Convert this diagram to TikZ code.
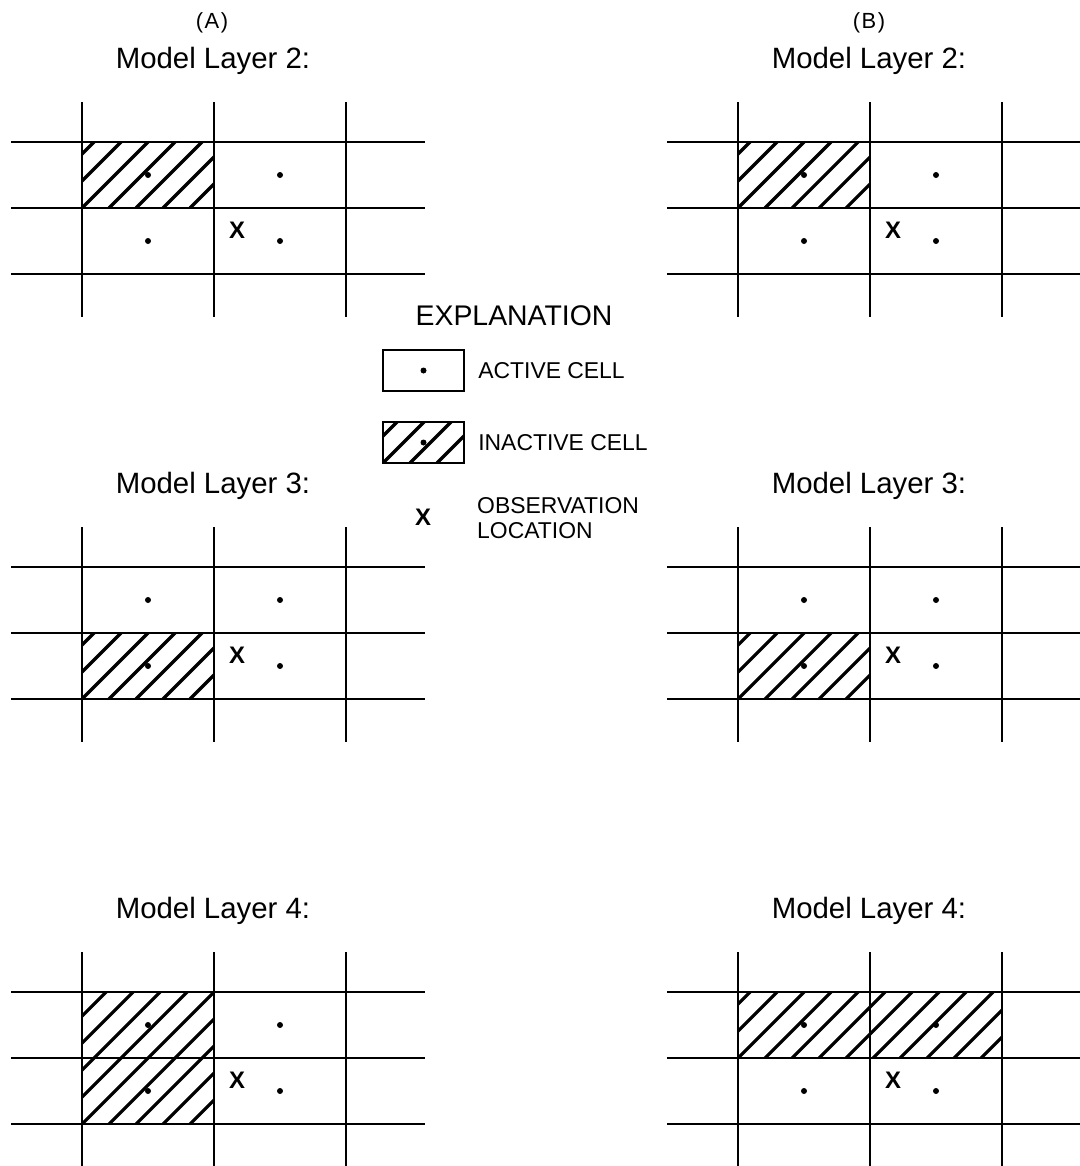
\documentclass[tikz,border=0pt]{standalone}
\usepackage{fontspec}
\setmainfont{Liberation Sans}
\usetikzlibrary{positioning}
\tikzset{
  grid line/.style={line width=2.4bp},
  hatch line/.style={line width=3.2bp},
  cell dot/.style={circle, fill, inner sep=0pt, minimum size=6bp},
  obs mark/.style={inner sep=0pt, font=\fontsize{24}{24}\selectfont\bfseries},
  panel label/.style={inner sep=0pt, anchor=base, font=\fontsize{22}{22}\selectfont},
  layer title/.style={inner sep=0pt, anchor=base, font=\fontsize{29.5}{29.5}\selectfont},
  key title/.style={inner sep=0pt, anchor=base, font=\fontsize{28.5}{28.5}\selectfont},
  key text/.style={inner sep=0pt, align=left, font=\fontsize{23}{25}\selectfont},
  key box/.style={draw, line width=2.2bp, minimum width=81bp, minimum height=41bp, inner sep=0pt}
}
% hatch a rectangle: left, top, right, bottom
\newcommand\hatchbox[4]{%
  \begin{scope}
    \clip (#1,#2) rectangle (#3,#4);
    \foreach \d in {0,27,...,405}
      \draw[hatch line] ({#1-135+\d},#4) -- ++(160,-160);
  \end{scope}}
% one model layer: grid lines, cell centres, observation point
\newcommand\layergrid{%
  \foreach \gx in {0,132,264}
    \draw[grid line] (\gx,-40) -- (\gx,175);
  \foreach \gy in {0,66,132}
    \draw[grid line] (-71,\gy) -- (343,\gy);
  \foreach \cx/\cy [count=\i] in {66/33,198/33,66/99,198/99}
    \node[cell dot] (c\i) at (\cx,\cy) {};
  \node[obs mark] (obs) at (155,88) {X};}

\begin{document}
\begin{tikzpicture}[x=1bp, y=-1bp]
\useasboundingbox (0,0) rectangle (1080,1166);

\node[panel label] (labA) at (212,28) {(\kern1.5bp A\kern1.5bp)};
\node[panel label] (labB) at (869,28) {(\kern1.5bp B\kern1.5bp)};

% column A
\begin{scope}[shift={(82,142)}, name prefix=A2-]
  \node[layer title] (title) at (131,-74) {Model Layer 2:};
  \hatchbox{0}{0}{132}{66}
  \layergrid
\end{scope}
\begin{scope}[shift={(82,567)}, name prefix=A3-]
  \node[layer title] (title) at (131,-74) {Model Layer 3:};
  \hatchbox{0}{66}{132}{132}
  \layergrid
\end{scope}
\begin{scope}[shift={(82,992)}, name prefix=A4-]
  \node[layer title] (title) at (131,-74) {Model Layer 4:};
  \hatchbox{0}{0}{132}{132}
  \layergrid
\end{scope}

% column B
\begin{scope}[shift={(738,142)}, name prefix=B2-]
  \node[layer title] (title) at (131,-74) {Model Layer 2:};
  \hatchbox{0}{0}{132}{66}
  \layergrid
\end{scope}
\begin{scope}[shift={(738,567)}, name prefix=B3-]
  \node[layer title] (title) at (131,-74) {Model Layer 3:};
  \hatchbox{0}{66}{132}{132}
  \layergrid
\end{scope}
\begin{scope}[shift={(738,992)}, name prefix=B4-]
  \node[layer title] (title) at (131,-74) {Model Layer 4:};
  \hatchbox{0}{0}{264}{66}
  \layergrid
\end{scope}

% explanation
\node[key title] (keytitle) at (514,325) {EXPLANATION};
\node[key box] (activebox) at (423.5,370.5) {};
\node[cell dot] (activedot) at (activebox.center) {};
\node[key text, right=13bp of activebox] (activetext) {ACTIVE CELL};
\hatchbox{383}{422}{464}{463}
\node[key box] (inactivebox) at (423.5,442.5) {};
\node[cell dot] (inactivedot) at (inactivebox.center) {};
\node[key text, right=13bp of inactivebox] (inactivetext) {INACTIVE CELL};
\node[obs mark] (keyobs) at (423,517) {X};
\node[key text, anchor=west] (obstext) at (477,518) {OBSERVATION\\LOCATION};
\end{tikzpicture}
\end{document}
